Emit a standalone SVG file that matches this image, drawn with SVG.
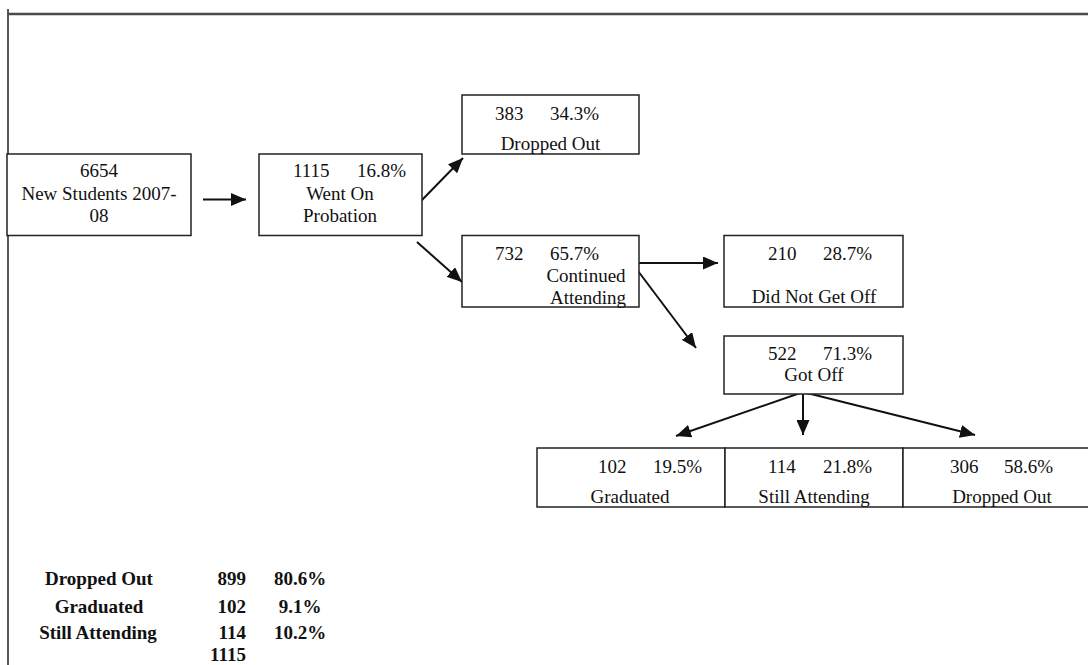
<svg xmlns="http://www.w3.org/2000/svg" width="1088" height="665" viewBox="0 0 1088 665">
<defs>
<style>
.box{fill:#fff;stroke:#222;stroke-width:1.5}
.t{font-family:"Liberation Serif","Times New Roman",serif;font-size:19px;fill:#111}
.c{text-anchor:middle}
.e{text-anchor:end}
.b{font-weight:bold}
.con{stroke:#111;stroke-width:2;fill:none;marker-end:url(#ah)}
</style>
<marker id="ah" markerUnits="userSpaceOnUse" markerWidth="15" markerHeight="13" refX="15" refY="6.5" orient="auto">
<path d="M0,0 L15,6.5 L0,13 z" fill="#111"/>
</marker>
</defs>
<rect width="1088" height="665" fill="#fff"/>
<g id="frame">
<line x1="8" y1="9" x2="8" y2="665" stroke="#222" stroke-width="1.5"/>
<line x1="8" y1="14" x2="1088" y2="14" stroke="#4a4a4a" stroke-width="2.5"/>
</g>
<g id="connectors">
<path class="con" d="M203,199.5 L246,199.5"/>
<path class="con" d="M421,201 L463,158"/>
<path class="con" d="M417,242 L462,282"/>
<path class="con" d="M632,263 L718,263"/>
<path class="con" d="M632,263 L696,348"/>
<path class="con" d="M803,392 L676,436"/>
<path class="con" d="M803,392 L803,435"/>
<path class="con" d="M803,392 L975,435"/>
</g>
<g id="new-students">
<rect class="box" x="7" y="154" width="184" height="81.5"/>
<text class="t c" x="99" y="177">6654</text>
<text class="t c" x="99" y="199.5">New Students 2007-</text>
<text class="t c" x="99" y="221.5">08</text>
</g>
<g id="probation">
<rect class="box" x="259" y="154" width="163" height="81.5"/>
<text class="t" x="293" y="177">1115</text>
<text class="t" x="357" y="177">16.8%</text>
<text class="t c" x="340" y="199.5">Went On</text>
<text class="t c" x="340" y="221.5">Probation</text>
</g>
<g id="dropped-out-1">
<rect class="box" x="462" y="95" width="177" height="59"/>
<text class="t" x="495" y="119.5">383</text>
<text class="t" x="550" y="119.5">34.3%</text>
<text class="t c" x="550.5" y="149.5">Dropped Out</text>
</g>
<g id="continued">
<rect class="box" x="462" y="235.5" width="177" height="71.5"/>
<text class="t" x="495" y="259.5">732</text>
<text class="t" x="550" y="259.5">65.7%</text>
<text class="t c" x="586" y="281.5">Continued</text>
<text class="t c" x="588" y="303.5">Attending</text>
</g>
<g id="did-not-get-off">
<rect class="box" x="724" y="235.5" width="179" height="71.5"/>
<text class="t" x="768" y="259.5">210</text>
<text class="t" x="823" y="259.5">28.7%</text>
<text class="t c" x="814" y="302.5">Did Not Get Off</text>
</g>
<g id="got-off">
<rect class="box" x="724" y="336" width="179" height="58"/>
<text class="t" x="768" y="359.5">522</text>
<text class="t" x="823" y="359.5">71.3%</text>
<text class="t c" x="814" y="380.5">Got Off</text>
</g>
<g id="graduated">
<rect class="box" x="537" y="448" width="188" height="59"/>
<text class="t" x="598" y="473">102</text>
<text class="t" x="653" y="473">19.5%</text>
<text class="t c" x="630" y="502.5">Graduated</text>
</g>
<g id="still-attending">
<rect class="box" x="725" y="448" width="178" height="59"/>
<text class="t" x="768" y="473">114</text>
<text class="t" x="823" y="473">21.8%</text>
<text class="t c" x="814" y="502.5">Still Attending</text>
</g>
<g id="dropped-out-2">
<rect class="box" x="903" y="448" width="190" height="59"/>
<text class="t" x="950" y="473">306</text>
<text class="t" x="1004" y="473">58.6%</text>
<text class="t c" x="1002" y="502.5">Dropped Out</text>
</g>
<g id="summary">
<text class="t b c" x="99" y="584.5">Dropped Out</text>
<text class="t b e" x="246" y="584.5">899</text>
<text class="t b c" x="300" y="584.5">80.6%</text>
<text class="t b c" x="99" y="612.5">Graduated</text>
<text class="t b e" x="246" y="612.5">102</text>
<text class="t b c" x="300" y="612.5">9.1%</text>
<text class="t b c" x="98" y="638.5">Still Attending</text>
<text class="t b e" x="246" y="638.5">114</text>
<text class="t b c" x="300" y="638.5">10.2%</text>
<text class="t b e" x="246" y="661">1115</text>
</g>
</svg>
